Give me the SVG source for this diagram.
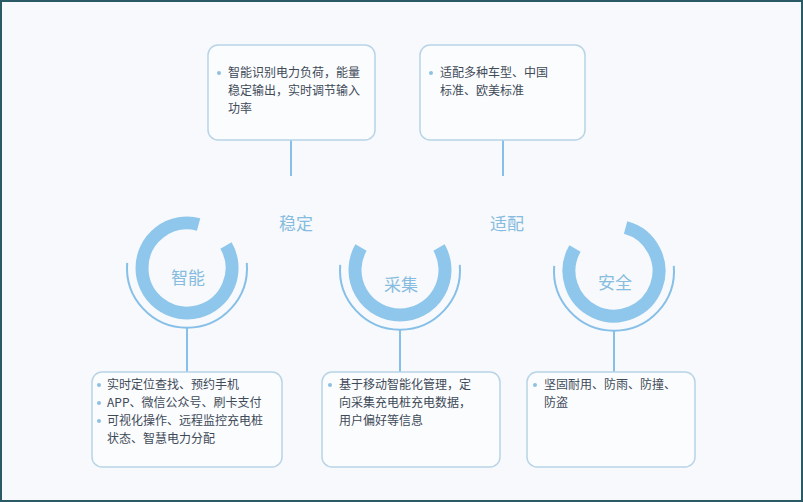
<svg xmlns="http://www.w3.org/2000/svg" width="803" height="502" viewBox="0 0 803 502">
<style>
.box{fill:#fbfcfe;stroke:#b9d4e6;stroke-width:1.5}
.ring{fill:none;stroke:#8ec6ec;stroke-width:13}
.thin{fill:none;stroke:#86c0e8;stroke-width:2}
.ln{stroke:#86c0e8;stroke-width:2}
.t{font-family:"Noto Sans CJK SC","Liberation Sans",sans-serif;font-size:12px;fill:#3e4a58}
.b{fill:#8ec0e0}
.lbl{font-family:"Noto Sans CJK SC",sans-serif;font-size:17px;fill:#86bcdf;text-anchor:middle}
</style>
<rect x="0" y="0" width="803" height="502" fill="#f7f9fc"/>
<rect x="1" y="1" width="801" height="500" fill="none" stroke="#2a5a66" stroke-width="2"/>
<g id="connectors">
<line class="ln" x1="291" y1="140" x2="291" y2="176"/>
<line class="ln" x1="503" y1="140" x2="503" y2="176"/>
<line class="ln" x1="187" y1="328" x2="187" y2="372"/>
<line class="ln" x1="400" y1="330" x2="400" y2="372"/>
<line class="ln" x1="614" y1="331" x2="614" y2="372"/>
</g>
<g id="top1"><rect class="box" x="208" y="45" width="167" height="95" rx="10"/>
<circle class="b" cx="219" cy="73" r="2"/>
<text class="t" x="228" y="77">智能识别电力负荷，能量</text><text class="t" x="228" y="95">稳定输出，实时调节输入</text><text class="t" x="228" y="113">功率</text></g>
<g id="top2"><rect class="box" x="420" y="45" width="165" height="95" rx="10"/>
<circle class="b" cx="431" cy="73" r="2"/>
<text class="t" x="440" y="77">适配多种车型、中国</text><text class="t" x="440" y="95">标准、欧美标准</text></g>
<text class="lbl" x="296" y="230">稳定</text>
<text class="lbl" x="507" y="230">适配</text>
<g id="zhineng"><path class="ring" d="M226,245.5 A45 45 0 1 1 198.6,224.5"/><path class="thin" d="M246.8,262.8 A60 60 0 1 1 127.2,262.8"/><text class="lbl" x="188" y="284">智能</text></g>
<g id="caiji"><path class="ring" d="M439,247.5 A45 45 0 1 1 361,247.5"/><path class="thin" d="M459.8,264.8 A60 60 0 1 1 340.2,264.8"/><text class="lbl" x="401" y="291">采集</text></g>
<g id="anquan"><path class="ring" d="M625.6,227.5 A45 45 0 1 1 575,248.5"/><path class="thin" d="M673.8,265.8 A60 60 0 1 1 554.2,265.8"/><text class="lbl" x="615" y="289">安全</text></g>
<g id="bot1"><rect class="box" x="92" y="372" width="190" height="95" rx="10"/>
<circle class="b" cx="99" cy="385" r="2"/><circle class="b" cx="99" cy="403" r="2"/><circle class="b" cx="99" cy="421" r="2"/>
<text class="t" x="107" y="389">实时定位查找、预约手机</text><text class="t" x="107" y="407">APP、微信公众号、刷卡支付</text><text class="t" x="107" y="425">可视化操作、远程监控充电桩</text><text class="t" x="107" y="443">状态、智慧电力分配</text></g>
<g id="bot2"><rect class="box" x="322" y="372" width="178" height="95" rx="10"/>
<circle class="b" cx="330" cy="385" r="2"/>
<text class="t" x="339" y="389">基于移动智能化管理，定</text><text class="t" x="339" y="407">向采集充电桩充电数据，</text><text class="t" x="339" y="425">用户偏好等信息</text></g>
<g id="bot3"><rect class="box" x="527" y="372" width="168" height="95" rx="10"/>
<circle class="b" cx="535" cy="385" r="2"/>
<text class="t" x="544" y="389">坚固耐用、防雨、防撞、</text><text class="t" x="544" y="407">防盗</text></g>
</svg>
